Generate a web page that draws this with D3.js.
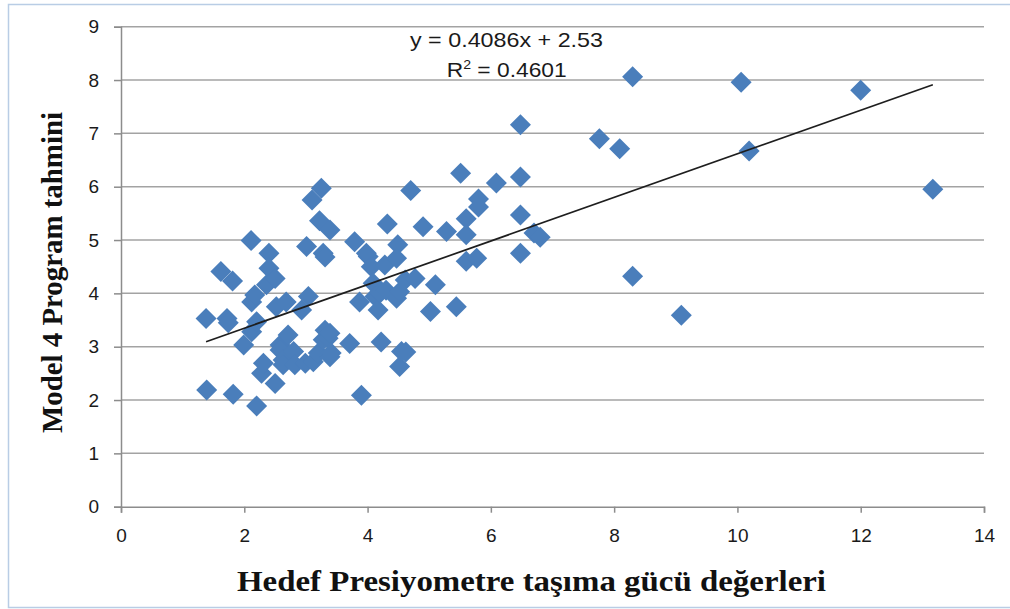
<!DOCTYPE html>
<html>
<head>
<meta charset="utf-8">
<script src="https://cdn.jsdelivr.net/npm/d3@7"></script>
<style>
  html, body { margin: 0; padding: 0; background: #fff; }
  svg { display: block; }
</style>
</head>
<body>
<svg id="chart" width="1010" height="609"></svg>
<script>
// ---- data ----
const xValues = [1.38,1.39,1.62,1.72,1.74,1.81,1.82,1.99,2.11,2.12,2.17,2.12,2.20,2.28,2.31,2.36,2.40,2.40,2.50,2.50,
  2.52,2.58,2.58,2.63,2.63,2.68,2.71,2.80,2.82,2.93,2.99,3.01,3.04,3.10,3.12,3.22,3.25,3.20,3.28,3.31,
  3.36,3.39,3.39,3.41,3.28,3.31,3.39,3.71,3.79,3.87,3.90,4.01,3.98,4.06,4.09,4.12,4.17,4.20,4.22,4.28,
  4.30,4.32,4.47,4.49,4.47,4.52,4.52,4.55,4.61,4.70,4.77,4.90,5.02,5.10,5.28,5.44,5.51,5.60,5.60,5.60,
  5.77,5.80,5.80,6.09,6.48,6.48,6.48,6.48,6.70,6.80,7.76,8.09,8.30,8.30,9.09,10.06,10.19,12.00,13.17,2.20,4.62];
const yValues = [3.53,2.19,4.41,3.53,3.45,4.23,2.11,3.03,4.99,3.84,3.97,3.28,1.89,2.50,2.69,4.16,4.75,4.47,4.28,2.31,
  3.75,3.03,2.94,2.75,2.66,3.84,3.22,2.91,2.66,3.69,2.69,4.88,3.94,5.75,2.72,5.36,5.97,2.88,3.13,3.31,
  3.16,3.25,2.81,2.88,4.75,4.68,5.19,3.06,4.97,3.84,2.09,4.69,4.75,4.50,4.19,3.94,3.69,4.00,3.09,4.53,
  4.06,5.30,3.91,4.91,4.66,4.03,2.63,2.91,4.25,5.93,4.28,5.25,3.66,4.16,5.16,3.75,6.25,5.40,5.10,4.60,
  4.66,5.77,5.62,6.07,7.16,6.18,5.47,4.75,5.13,5.05,6.90,6.71,8.06,4.32,3.59,7.96,6.67,7.81,5.95,3.47,2.90];
const xTicks = [0, 2, 4, 6, 8, 10, 12, 14];
const yTicks = [0, 1, 2, 3, 4, 5, 6, 7, 8, 9];
const trendSlope = 0.4086;
const trendIntercept = 2.53;
const trendXRange = [1.38, 13.17];
const equationText = "y = 0.4086x + 2.53";
const r2Value = "0.4601";
const xTitle = "Hedef Presiyometre taşıma gücü değerleri";
const yTitle = "Model 4 Program tahmini";

// ---- drawing ----
const svg = d3.select("#chart");
const x = d3.scaleLinear().domain([0, 14]).range([121, 984]);
const y = d3.scaleLinear().domain([0, 9]).range([506.7, 26.7]);

// outer chart border
svg.append("rect")
  .attr("x", 8.5).attr("y", 4.5).attr("width", 1010).attr("height", 603)
  .attr("fill", "#fff").attr("stroke", "#b9cde5").attr("stroke-width", 1.5);

// horizontal gridlines
svg.append("g").selectAll("line")
  .data(yTicks.filter(d => d > 0))
  .join("line")
  .attr("x1", x(0)).attr("x2", x(14))
  .attr("y1", d => y(d)).attr("y2", d => y(d))
  .attr("stroke", "#a3a3a3").attr("stroke-width", 1.5);

// axes
const xAxis = d3.axisBottom(x).tickValues(xTicks).tickSize(6).tickPadding(12).tickFormat(d3.format("d"));
const yAxis = d3.axisLeft(y).tickValues(yTicks).tickSize(7).tickPadding(15).tickFormat(d3.format("d"));

const gx = svg.append("g").attr("transform", `translate(0,${y(0)})`).call(xAxis);
const gy = svg.append("g").attr("transform", `translate(${x(0)},0)`).call(yAxis);

[gx, gy].forEach(g => {
  g.select(".domain").attr("stroke", "#8c8c8c").attr("stroke-width", 1.5);
  g.selectAll(".tick line").attr("stroke", "#8c8c8c").attr("stroke-width", 1.5);
  g.selectAll(".tick text")
    .attr("fill", "#1a1a1a")
    .style("font-family", "'Liberation Sans', Arial, sans-serif")
    .style("font-size", "19px");
});
gx.selectAll(".tick text").attr("dy", "0.9em");

// points
svg.append("g").selectAll("path")
  .data(xValues.map((v, i) => ({ x: v, y: yValues[i] })))
  .join("path")
  .attr("d", "M0,-10.5L10.5,0L0,10.5L-10.5,0Z")
  .attr("transform", d => `translate(${x(d.x)},${y(d.y)})`)
  .attr("fill", "#4a7ebb");

// trend line
svg.append("line")
  .attr("x1", x(trendXRange[0])).attr("y1", y(trendSlope * trendXRange[0] + trendIntercept))
  .attr("x2", x(trendXRange[1])).attr("y2", y(trendSlope * trendXRange[1] + trendIntercept))
  .attr("stroke", "#1e1e1e").attr("stroke-width", 1.7);

// equation labels
svg.append("text")
  .attr("x", 410).attr("y", 46.7)
  .attr("textLength", 193).attr("lengthAdjust", "spacingAndGlyphs")
  .style("font-family", "'Liberation Sans', Arial, sans-serif")
  .style("font-size", "21px").attr("fill", "#1a1a1a")
  .text(equationText);

const r2 = svg.append("text")
  .attr("x", 446.7).attr("y", 76.7)
  .attr("textLength", 120).attr("lengthAdjust", "spacingAndGlyphs")
  .style("font-family", "'Liberation Sans', Arial, sans-serif")
  .style("font-size", "21px").attr("fill", "#1a1a1a");
r2.append("tspan").text("R");
r2.append("tspan").attr("dy", -8).style("font-size", "13px").text("2");
r2.append("tspan").attr("dy", 8).text(" = " + r2Value);

// axis titles
svg.append("text")
  .attr("x", 237).attr("y", 590.7)
  .attr("textLength", 589).attr("lengthAdjust", "spacingAndGlyphs")
  .style("font-family", "'Liberation Serif', 'Times New Roman', serif")
  .style("font-weight", "bold").style("font-size", "29px").attr("fill", "#111")
  .text(xTitle);

svg.append("text")
  .attr("transform", `translate(61.7,433) rotate(-90)`)
  .attr("x", 0).attr("y", 0)
  .attr("textLength", 321).attr("lengthAdjust", "spacingAndGlyphs")
  .style("font-family", "'Liberation Serif', 'Times New Roman', serif")
  .style("font-weight", "bold").style("font-size", "29px").attr("fill", "#111")
  .text(yTitle);
</script>
</body>
</html>
